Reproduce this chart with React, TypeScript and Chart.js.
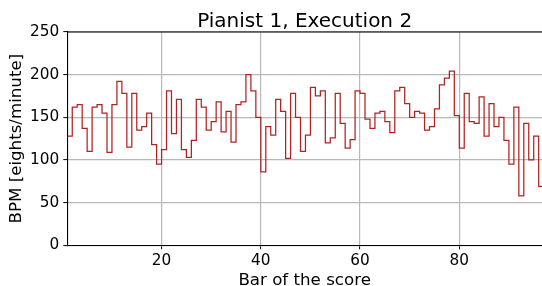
import React, { useEffect, useRef } from "react";
import { Chart, registerables } from "chart.js";

Chart.register(...registerables);

// Bar numbers of the score (each step covers [bar, bar + 1])
const bars = [
  1, 2, 3, 4, 5, 6, 7, 8, 9, 10, 11, 12, 13, 14, 15, 16, 17, 18, 19, 20,
  21, 22, 23, 24, 25, 26, 27, 28, 29, 30, 31, 32, 33, 34, 35, 36, 37, 38, 39, 40,
  41, 42, 43, 44, 45, 46, 47, 48, 49, 50, 51, 52, 53, 54, 55, 56, 57, 58, 59, 60,
  61, 62, 63, 64, 65, 66, 67, 68, 69, 70, 71, 72, 73, 74, 75, 76, 77, 78, 79, 80,
  81, 82, 83, 84, 85, 86, 87, 88, 89, 90, 91, 92, 93, 94, 95, 96,
];

// Tempo (BPM, eighths per minute) per bar
const bpm = [
  128, 162, 165, 137, 110, 162, 165, 155, 109, 165,
  192, 178, 115, 178, 135, 139, 155, 118, 95, 112,
  181, 131, 171, 112, 103, 123, 171, 162, 135, 145,
  168, 133, 157, 121, 165, 168, 200, 181, 150, 86,
  139, 129, 171, 157, 102, 178, 150, 110, 129, 185,
  175, 181, 120, 126, 178, 143, 114, 124, 181, 178,
  148, 137, 155, 157, 145, 132, 181, 185, 166, 150,
  157, 155, 135, 139, 160, 188, 196, 204, 152, 114,
  178, 145, 143, 174, 128, 166, 139, 150, 123, 95,
  162, 58, 143, 100, 128, 69,
];

const xTicks = [20, 40, 60, 80];
const yTicks = [0, 50, 100, 150, 200, 250];

const FONT = "'DejaVu Sans', 'Liberation Sans', sans-serif";

const topSpine = {
  id: "topSpine",
  afterDatasetsDraw(chart: any) {
    const { ctx, chartArea } = chart;
    ctx.save();
    ctx.strokeStyle = "#000";
    ctx.lineWidth = 1.1;
    ctx.beginPath();
    ctx.moveTo(chartArea.left, chartArea.top);
    ctx.lineTo(chartArea.right + 2, chartArea.top);
    ctx.stroke();
    ctx.restore();
  },
};

export default function App() {
  const ref = useRef<HTMLCanvasElement | null>(null);

  useEffect(() => {
    if (!ref.current) return;
    const points = bars.map((b, i) => ({ x: b, y: bpm[i] }));
    points.push({ x: bars[bars.length - 1] + 1, y: bpm[bpm.length - 1] });

    const chart = new Chart(ref.current, {
      type: "line",
      data: {
        datasets: [
          {
            data: points,
            borderColor: "#b22222",
            borderWidth: 1.25,
            pointRadius: 0,
            stepped: "before",
            fill: false,
            tension: 0,
          },
        ],
      },
      options: {
        animation: false,
        responsive: false,
        devicePixelRatio: 1,
        layout: { padding: { left: 0, right: 0, top: 0, bottom: 0 } },
        plugins: {
          legend: { display: false },
          tooltip: { enabled: false },
          title: {
            display: true,
            text: "Pianist 1, Execution 2",
            fullSize: false,
            color: "#000",
            font: { family: FONT, size: 20, weight: "normal", lineHeight: 1 },
            padding: { top: 11.7, bottom: 0.3 },
          },
        },
        scales: {
          x: {
            type: "linear",
            min: 1,
            max: 96.67,
            afterBuildTicks: (scale: any) => {
              scale.ticks = xTicks.map((v) => ({ value: v }));
            },
            afterFit: (scale: any) => {
              scale.height = 40.7;
            },
            grid: {
              color: "#b8b8b8",
              lineWidth: 1.2,
              tickColor: "#000",
              tickLength: 4,
              tickWidth: 1,
            },
            border: { color: "#000", width: 1.1 },
            ticks: {
              color: "#000",
              padding: 3,
              maxRotation: 0,
              font: { family: FONT, size: 15.3 },
            },
            title: {
              display: true,
              text: "Bar of the score",
              color: "#000",
              font: { family: FONT, size: 16.67, lineHeight: 1 },
              padding: { top: 0, bottom: -2.7 },
            },
          },
          y: {
            type: "linear",
            min: 0,
            max: 250,
            afterBuildTicks: (scale: any) => {
              scale.ticks = yTicks.map((v) => ({ value: v }));
            },
            afterFit: (scale: any) => {
              scale.width = 67.3;
            },
            grid: {
              color: "#b8b8b8",
              lineWidth: 1.2,
              tickColor: "#000",
              tickLength: 4,
              tickWidth: 1,
            },
            border: { color: "#000", width: 1.1 },
            ticks: {
              color: "#000",
              padding: 4,
              font: { family: FONT, size: 15.3 },
            },
            title: {
              display: true,
              text: "BPM [eights/minute]",
              color: "#000",
              font: { family: FONT, size: 16.67, lineHeight: 1 },
              padding: { top: 8.7, bottom: 0 },
            },
          },
        },
      },
      plugins: [topSpine],
    });
    return () => chart.destroy();
  }, []);

  return (
    <div
      style={{
        position: "fixed",
        left: 0,
        top: 0,
        width: 542,
        height: 286,
        background: "#fff",
        overflow: "hidden",
      }}
    >
      <canvas ref={ref} width={542} height={286} style={{ display: "block" }} />
    </div>
  );
}
